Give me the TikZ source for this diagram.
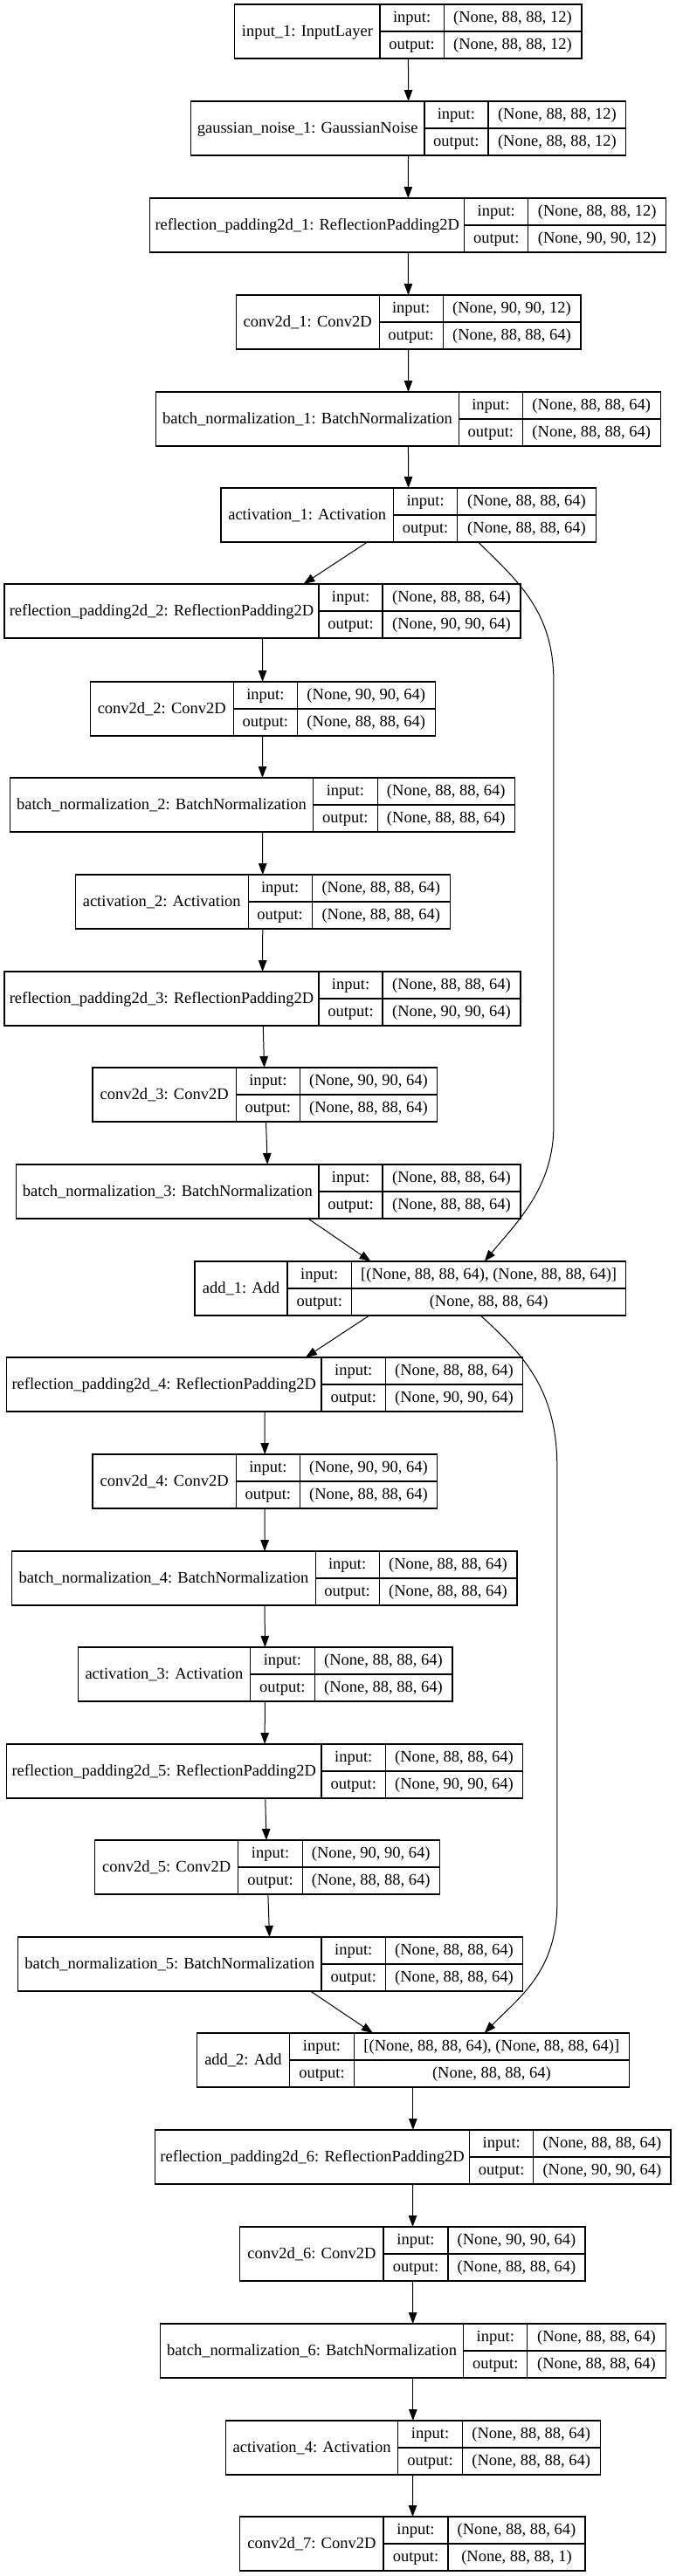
\documentclass[tikz,border=0pt]{standalone}
\usepackage{fontspec}
\setmainfont{Liberation Serif}
\usetikzlibrary{arrows.meta,calc,fit}
\tikzset{
  layer/.style={draw, line width=1.2pt, inner sep=0pt, outer sep=0pt},
  cell/.style={line width=1.2pt},
  txt/.style={inner sep=0pt, text height=14pt, text depth=4pt},
  link/.style={line width=1pt, -{Triangle[length=13pt,width=9.5pt]}},
}
\begin{document}
\begin{tikzpicture}[x=0.4933pt,y=-1pt,every node/.append style={font=\fontsize{18.5}{22}\selectfont}]
    \useasboundingbox (0,0) rectangle (1567,2951);
    \foreach \nm/\xa/\xb/\xc/\xd/\yt/\lab/\inp/\outp in {
        in1/545/882/1030/1350/5/{input\_1: InputLayer}/{(None, 88, 88, 12)}/{(None, 88, 88, 12)},
        gn1/443/985/1133/1453/116/{gaussian\_noise\_1: GaussianNoise}/{(None, 88, 88, 12)}/{(None, 88, 88, 12)},
        rp1/348/1078/1226/1546/227/{reflection\_padding2d\_1: ReflectionPadding2D}/{(None, 88, 88, 12)}/{(None, 90, 90, 12)},
        cv1/548/880/1028/1348/338/{conv2d\_1: Conv2D}/{(None, 90, 90, 12)}/{(None, 88, 88, 64)},
        bn1/362/1065/1213/1533/449/{batch\_normalization\_1: BatchNormalization}/{(None, 88, 88, 64)}/{(None, 88, 88, 64)},
        act1/513/913/1062/1383/559/{activation\_1: Activation}/{(None, 88, 88, 64)}/{(None, 88, 88, 64)},
        rp2/10/740/888/1208/669/{reflection\_padding2d\_2: ReflectionPadding2D}/{(None, 88, 88, 64)}/{(None, 90, 90, 64)},
        cv2/209/542/690/1010/781/{conv2d\_2: Conv2D}/{(None, 90, 90, 64)}/{(None, 88, 88, 64)},
        bn2/23/727/876/1195/891/{batch\_normalization\_2: BatchNormalization}/{(None, 88, 88, 64)}/{(None, 88, 88, 64)},
        act2/175/576/724/1045/1002/{activation\_2: Activation}/{(None, 88, 88, 64)}/{(None, 88, 88, 64)},
        rp3/10/740/888/1208/1113/{reflection\_padding2d\_3: ReflectionPadding2D}/{(None, 88, 88, 64)}/{(None, 90, 90, 64)},
        cv3/215/548/696/1015/1223/{conv2d\_3: Conv2D}/{(None, 90, 90, 64)}/{(None, 88, 88, 64)},
        bn3/38/740/888/1208/1334/{batch\_normalization\_3: BatchNormalization}/{(None, 88, 88, 64)}/{(None, 88, 88, 64)},
        add1/452/667/816/1453/1445/{add\_1: Add}/{[(None, 88, 88, 64), (None, 88, 88, 64)]}/{(None, 88, 88, 64)},
        rp4/15/746/895/1213/1555/{reflection\_padding2d\_4: ReflectionPadding2D}/{(None, 88, 88, 64)}/{(None, 90, 90, 64)},
        cv4/215/548/696/1015/1666/{conv2d\_4: Conv2D}/{(None, 90, 90, 64)}/{(None, 88, 88, 64)},
        bn4/28/732/880/1200/1777/{batch\_normalization\_4: BatchNormalization}/{(None, 88, 88, 64)}/{(None, 88, 88, 64)},
        act3/181/581/730/1050/1887/{activation\_3: Activation}/{(None, 88, 88, 64)}/{(None, 88, 88, 64)},
        rp5/15/746/895/1213/1998/{reflection\_padding2d\_5: ReflectionPadding2D}/{(None, 88, 88, 64)}/{(None, 90, 90, 64)},
        cv5/220/553/702/1020/2108/{conv2d\_5: Conv2D}/{(None, 90, 90, 64)}/{(None, 88, 88, 64)},
        bn5/42/746/895/1213/2219/{batch\_normalization\_5: BatchNormalization}/{(None, 88, 88, 64)}/{(None, 88, 88, 64)},
        add2/457/672/822/1460/2329/{add\_2: Add}/{[(None, 88, 88, 64), (None, 88, 88, 64)]}/{(None, 88, 88, 64)},
        rp6/360/1090/1238/1557/2440/{reflection\_padding2d\_6: ReflectionPadding2D}/{(None, 88, 88, 64)}/{(None, 90, 90, 64)},
        cv6/557/890/1040/1358/2551/{conv2d\_6: Conv2D}/{(None, 90, 90, 64)}/{(None, 88, 88, 64)},
        bn6/372/1076/1224/1545/2662/{batch\_normalization\_6: BatchNormalization}/{(None, 88, 88, 64)}/{(None, 88, 88, 64)},
        act4/524/924/1073/1393/2773/{activation\_4: Activation}/{(None, 88, 88, 64)}/{(None, 88, 88, 64)},
        cv7/557/890/1040/1358/2883/{conv2d\_7: Conv2D}/{(None, 88, 88, 64)}/{(None, 88, 88, 1)}%
    }{
        \pgfmathsetmacro\yb{\yt+62}
        \pgfmathsetmacro\ym{\yt+31}
        \node[layer, fit={(\xa,\yt) (\xd,\yb)}] (\nm) {};
        \draw[cell] (\xb,\yt) -- (\xb,\yb) (\xc,\yt) -- (\xc,\yb) (\xb,\ym) -- (\xd,\ym);
        \node[txt] (\nm-lab) at ({(\xa+\xb)/2},\ym) {\lab};
        \node[txt] (\nm-in) at ({(\xb+\xc)/2},{\yt+15.5}) {input:};
        \node[txt] (\nm-out) at ({(\xb+\xc)/2},{\yt+46.5}) {output:};
        \node[txt] (\nm-ins) at ({(\xc+\xd)/2},{\yt+15.5}) {\inp};
        \node[txt] (\nm-outs) at ({(\xc+\xd)/2},{\yt+46.5}) {\outp};
    }
    \foreach \a/\b in {in1/gn1,gn1/rp1,rp1/cv1,cv1/bn1,bn1/act1,act1/rp2,rp2/cv2,cv2/bn2,bn2/act2,
        act2/rp3,rp3/cv3,cv3/bn3,bn3/add1,add1/rp4,rp4/cv4,cv4/bn4,bn4/act3,act3/rp5,rp5/cv5,
        cv5/bn5,bn5/add2,add2/rp6,rp6/cv6,cv6/bn6,bn6/act4,act4/cv7}
        \draw[link] (\a) -- (\b);
    \draw[link] ($(act1.south)+(162,0)$) .. controls (1200,665) and (1285,700) .. (1285,780)
        -- (1285,1290) .. controls (1285,1360) and (1200,1400) .. ($(add1.north)+(172,0)$);
    \draw[link] ($(add1.south)+(163,0)$) .. controls (1210,1550) and (1293,1590) .. (1293,1680)
        -- (1293,2180) .. controls (1293,2260) and (1200,2290) .. ($(add2.north)+(166,0)$);
\end{tikzpicture}
\end{document}
